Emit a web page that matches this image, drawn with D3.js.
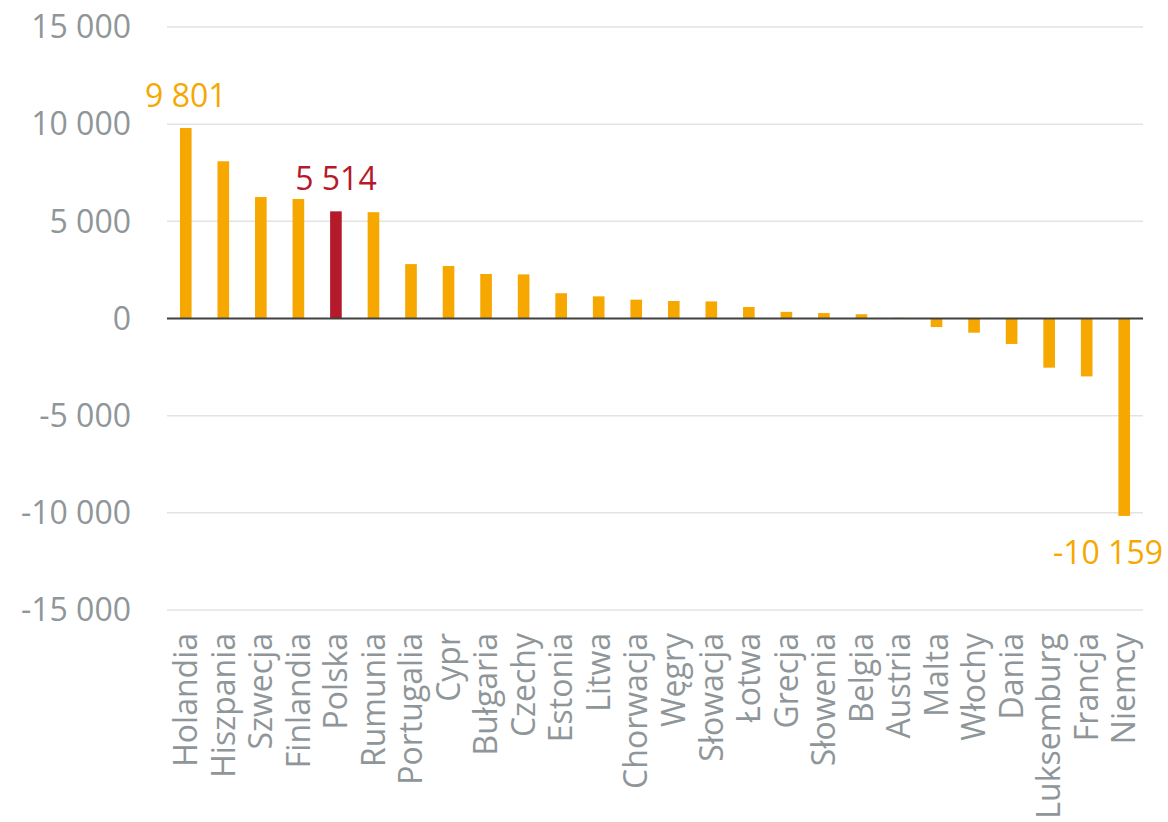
<!DOCTYPE html>
<html><head><meta charset="utf-8">
<script src="https://cdn.jsdelivr.net/npm/d3@7"></script>
<style>
html,body{margin:0;padding:0;background:#fff;}
text{font-family:"Open Sans",sans-serif;}
</style></head>
<body>
<svg id="chart" width="1168" height="822"></svg>
<script>
const categories = ["Holandia","Hiszpania","Szwecja","Finlandia","Polska","Rumunia","Portugalia","Cypr","Bułgaria","Czechy","Estonia","Litwa","Chorwacja","Węgry","Słowacja","Łotwa","Grecja","Słowenia","Belgia","Austria","Malta","Włochy","Dania","Luksemburg","Francja","Niemcy"];
const values = [9801,8090,6250,6150,5514,5470,2800,2700,2290,2270,1300,1140,970,900,880,590,340,280,220,40,-440,-730,-1310,-2530,-2980,-10159];
const yTicks = [-15000,-10000,-5000,0,5000,10000,15000];
const highlighted = ["Polska"];
const labelled = ["Holandia","Polska","Niemcy"];

const W = 1168, H = 822;
const margin = {left:167, right:25, top:27, bottom:212};
const orange = "#F6A800", red = "#B51A2A", gray = "#8F9699";
const FS = 32;
const fmt = v => d3.format(",")(v).replace(/,/g," ").replace("\u2212", "-");

const svg = d3.select("#chart");
const x = d3.scaleBand().domain(categories).range([margin.left, W - margin.right]).paddingInner(0.69).paddingOuter(0.345);
const y = d3.scaleLinear().domain([-15000,15000]).range([H - margin.bottom, margin.top]);

// gridlines
svg.append("g").selectAll("line").data(yTicks.filter(t=>t!==0)).join("line")
  .attr("x1", margin.left).attr("x2", W - margin.right)
  .attr("y1", d=>y(d)).attr("y2", d=>y(d))
  .attr("stroke","#E3E3E3").attr("stroke-width",1.5);

// y labels
svg.append("g").selectAll("text").data(yTicks).join("text")
  .attr("x", 131).attr("y", d=>y(d)).attr("dy","0.35em")
  .attr("text-anchor","end").attr("fill",gray).attr("font-size",FS)
  .text(d=>fmt(d));

// bars
const data = categories.map((c,i)=>({c, v:values[i]}));
svg.append("g").selectAll("rect").data(data).join("rect")
  .attr("x", d=>x(d.c)).attr("width", x.bandwidth())
  .attr("y", d=>y(Math.max(0,d.v))).attr("height", d=>Math.abs(y(d.v)-y(0)))
  .attr("fill", d=>highlighted.includes(d.c)?red:orange);

// zero line
svg.append("line").attr("x1",margin.left).attr("x2",W - margin.right)
  .attr("y1",y(0)).attr("y2",y(0)).attr("stroke","#404040").attr("stroke-width",2.2);

// category labels
svg.append("g").selectAll("text").data(categories).join("text")
  .attr("transform", d=>`translate(${x(d)+x.bandwidth()/2},${y(-15000)+23}) rotate(-90)`)
  .attr("dy","0.35em").attr("text-anchor","end").attr("fill",gray).attr("font-size",FS)
  .text(d=>d);

// value labels
const vl = svg.append("g").selectAll("text").data(data.filter(d=>labelled.includes(d.c))).join("text")
  .attr("x", d=>x(d.c)+x.bandwidth()/2)
  .attr("y", d=> d.v>=0 ? y(d.v)-21 : y(d.v)+48)
  .attr("text-anchor","middle").attr("font-size",FS)
  .attr("fill", d=>highlighted.includes(d.c)?red:orange)
  .text(d=>fmt(d.v));
vl.each(function(){
  const bb = this.getBBox();
  const limit = W - 5;
  if (bb.x + bb.width > limit) {
    d3.select(this).attr("x", +d3.select(this).attr("x") - (bb.x + bb.width - limit));
  }
});
</script>
</body></html>
